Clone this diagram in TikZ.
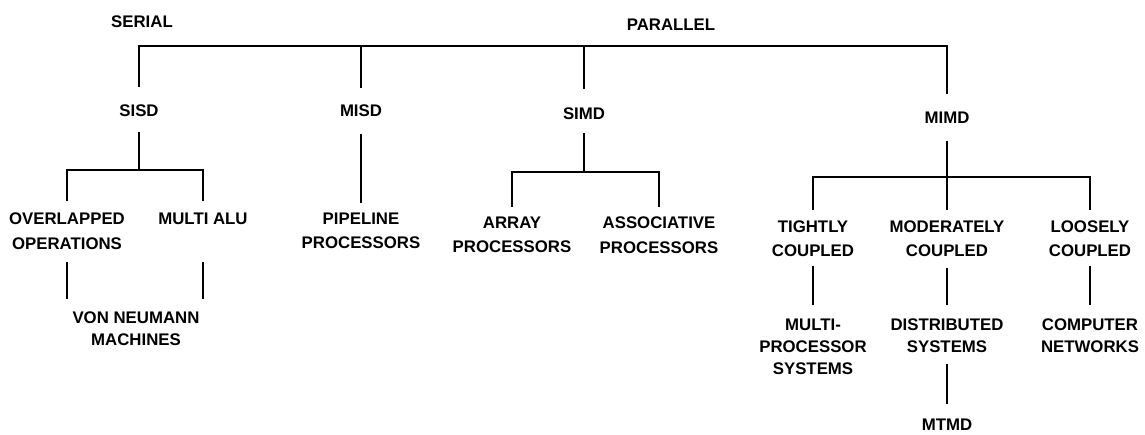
\documentclass[tikz,border=0pt]{standalone}
\usepackage{fontspec}
\setmainfont{Liberation Sans}
\begin{document}
\begin{tikzpicture}[x=1pt,y=-1pt,
  lbl/.style={font=\bfseries\fontsize{16.8}{24.5}\selectfont, align=center, inner sep=0pt, outer sep=0pt},
  lblb/.style={lbl, font=\bfseries\fontsize{16.8}{22}\selectfont},
  ln/.style={line width=2.9pt, line cap=butt, line join=miter}]
\useasboundingbox (0,0) rectangle (1145,434);
% labels
\node[lbl] (serial) at (142,21.5) {SERIAL};
\node[lbl] (parallel) at (671,25) {PARALLEL};
\node[lbl] (sisd) at (139,111) {SISD};
\node[lbl] (misd) at (361,111) {MISD};
\node[lbl] (simd) at (584,114) {SIMD};
\node[lbl] (mimd) at (947,118) {MIMD};
\node[lbl] (over) at (67,231) {OVERLAPPED\\OPERATIONS};
\node[lbl] (alu) at (203,219) {MULTI ALU};
\node[lbl] (pipe) at (361,231) {PIPELINE\\PROCESSORS};
\node[lbl] (array) at (512,235) {ARRAY\\PROCESSORS};
\node[lbl] (assoc) at (659,235) {ASSOCIATIVE\\PROCESSORS};
\node[lbl] (tight) at (813,238.5) {TIGHTLY\\COUPLED};
\node[lbl] (moder) at (947,238.5) {MODERATELY\\COUPLED};
\node[lbl] (loose) at (1090,238.5) {LOOSELY\\COUPLED};
\node[lblb] (von) at (136,329) {VON NEUMANN\\MACHINES};
\node[lblb] (multi) at (813,346.5) {MULTI-\\PROCESSOR\\SYSTEMS};
\node[lblb] (distr) at (947,335.5) {DISTRIBUTED\\SYSTEMS};
\node[lblb] (comp) at (1090,335.5) {COMPUTER\\NETWORKS};
\node[lbl] (mtmd) at (947,425) {MTMD};
% helper coordinates
\coordinate (bar) at (0,46);
\coordinate (sisdbr) at (0,170);
\coordinate (simdbr) at (0,172);
\coordinate (mimdbr) at (0,177);
\coordinate (overb) at ([yshift=-13pt]over.south);
\coordinate (vont) at ([yshift=13pt]von.north);
% top bar
\draw[ln] ([yshift=18pt]sisd.north) -- (sisd |- bar) -- (mimd |- bar) -- ([yshift=18pt]mimd.north);
\draw[ln] (misd |- bar) -- ([yshift=17pt]misd.north);
\draw[ln] (simd |- bar) -- ([yshift=19pt]simd.north);
% SISD subtree
\draw[ln] ([yshift=-15pt]sisd.south) -- (sisd |- sisdbr);
\draw[ln] ([yshift=12pt]over.north) -- (over |- sisdbr) -- (alu |- sisdbr) -- ([yshift=12pt]alu.north);
\draw[ln] (overb) -- (vont -| over);
\draw[ln] (overb -| alu) -- (vont -| alu);
% MISD
\draw[ln] ([yshift=-17pt]misd.south) -- ([yshift=10pt]pipe.north);
% SIMD
\draw[ln] ([yshift=-13pt]simd.south) -- (simd |- simdbr);
\draw[ln] ([yshift=10pt]array.north) -- (array |- simdbr) -- (assoc |- simdbr) -- ([yshift=10pt]assoc.north);
% MIMD
\draw[ln] ([yshift=-17pt]mimd.south) -- ([yshift=10pt]moder.north);
\draw[ln] ([yshift=10pt]tight.north) -- (tight |- mimdbr) -- (loose |- mimdbr) -- ([yshift=10pt]loose.north);
\draw[ln] ([yshift=-9pt]tight.south) -- ([yshift=14pt]multi.north);
\draw[ln] ([yshift=-11pt]moder.south) -- ([yshift=14pt]distr.north);
\draw[ln] ([yshift=-9pt]loose.south) -- ([yshift=14pt]comp.north);
\draw[ln] ([yshift=-12pt]distr.south) -- ([yshift=15pt]mtmd.north);
\end{tikzpicture}
\end{document}
